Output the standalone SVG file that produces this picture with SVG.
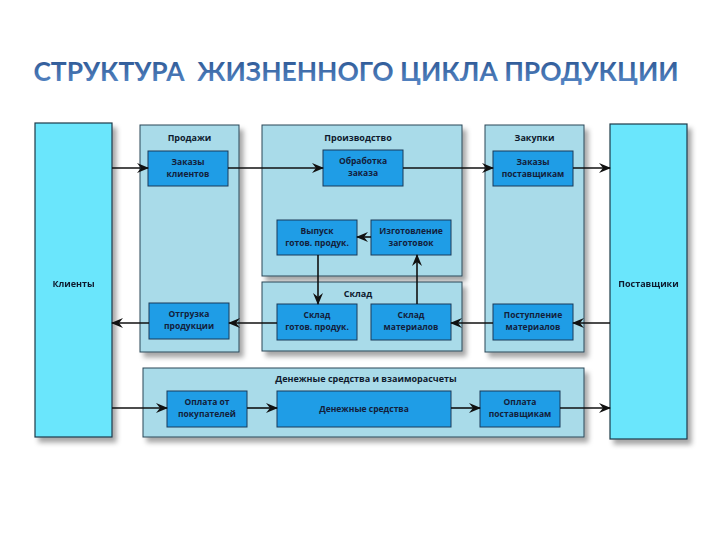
<svg xmlns="http://www.w3.org/2000/svg" width="720" height="540" viewBox="0 0 720 540">
<defs>
<linearGradient id="tg" x1="0" y1="0" x2="0" y2="1">
<stop offset="0" stop-color="#27508c"/>
<stop offset="1" stop-color="#5a8ccb"/>
</linearGradient>
<filter id="sh" x="-10%" y="-10%" width="130%" height="130%">
<feDropShadow dx="4" dy="5" stdDeviation="2.5" flood-color="#000" flood-opacity="0.35"/>
</filter>
<marker id="ar" viewBox="0 0 12 10" refX="11" refY="5" markerWidth="12" markerHeight="10" markerUnits="userSpaceOnUse" orient="auto">
<path d="M0,0 L12,5 L0,10 L4,5 z" fill="#111"/>
</marker>
</defs>
<style>
.big{fill:#6ae6fc;stroke:#1b3a4a;stroke-width:1.2}
.cont{fill:#a9dbe9;stroke:#2a4656;stroke-width:1}
.box{fill:#1f9de6;stroke:#1a3a5a;stroke-width:1}
.t{font-family:"Open Sans","DejaVu Sans",sans-serif;font-weight:bold;font-size:8.5px;fill:#13203a;text-anchor:middle}
.h{font-family:"Open Sans","DejaVu Sans",sans-serif;font-weight:bold;font-size:9px;fill:#0e1a2e;text-anchor:middle}
.c{stroke:#111;stroke-width:1.6;fill:none;marker-end:url(#ar)}
</style>
<rect width="720" height="540" fill="#fff"/>
<text x="356" y="81" font-family="Lato, Open Sans, DejaVu Sans, sans-serif" font-weight="bold" font-size="26.4" fill="url(#tg)" text-anchor="middle" xml:space="preserve">СТРУКТУРА  ЖИЗНЕННОГО ЦИКЛА ПРОДУКЦИИ</text>

<g id="clients" filter="url(#sh)"><rect class="big" x="35" y="123" width="77" height="314"/><text class="h" x="73.5" y="287">Клиенты</text></g>
<g id="suppliers" filter="url(#sh)"><rect class="big" x="610" y="124" width="77" height="315"/><text class="h" x="648.5" y="287">Поставщики</text></g>

<g id="sales"><rect class="cont" filter="url(#sh)" x="140" y="125" width="99" height="227"/><text class="h" x="189.5" y="141">Продажи</text></g>
<g id="production"><rect class="cont" filter="url(#sh)" x="262" y="125" width="200" height="151"/><text class="h" x="358" y="141">Производство</text></g>
<g id="warehouse"><rect class="cont" filter="url(#sh)" x="262" y="282" width="200" height="69"/><text class="h" x="358" y="297">Склад</text></g>
<g id="purchases"><rect class="cont" filter="url(#sh)" x="485" y="125" width="99" height="227"/><text class="h" x="534.5" y="141">Закупки</text></g>
<g id="finance"><rect class="cont" filter="url(#sh)" x="143" y="368" width="441" height="69"/><text class="h" x="366" y="382">Денежные средства и взаиморасчеты</text></g>

<g id="n1"><rect class="box" x="148" y="151" width="80" height="35"/><text class="t" x="188" y="165">Заказы</text><text class="t" x="188" y="177">клиентов</text></g>
<g id="n2"><rect class="box" x="149" y="303" width="80" height="36"/><text class="t" x="189" y="317">Отгрузка</text><text class="t" x="189" y="329">продукции</text></g>
<g id="n3"><rect class="box" x="323" y="150" width="80" height="36"/><text class="t" x="363" y="164">Обработка</text><text class="t" x="363" y="176">заказа</text></g>
<g id="n4"><rect class="box" x="277" y="220" width="80" height="35"/><text class="t" x="317" y="234">Выпуск</text><text class="t" x="317" y="246">готов. продук.</text></g>
<g id="n5"><rect class="box" x="371" y="220" width="80" height="35"/><text class="t" x="411" y="234">Изготовление</text><text class="t" x="411" y="246">заготовок</text></g>
<g id="n6"><rect class="box" x="277" y="304" width="80" height="36"/><text class="t" x="317" y="318">Склад</text><text class="t" x="317" y="330">готов. продук.</text></g>
<g id="n7"><rect class="box" x="371" y="304" width="80" height="36"/><text class="t" x="411" y="318">Склад</text><text class="t" x="411" y="330">материалов</text></g>
<g id="n8"><rect class="box" x="493" y="151" width="80" height="35"/><text class="t" x="533" y="165">Заказы</text><text class="t" x="533" y="177">поставщикам</text></g>
<g id="n9"><rect class="box" x="493" y="304" width="80" height="36"/><text class="t" x="533" y="318">Поступление</text><text class="t" x="533" y="330">материалов</text></g>
<g id="n10"><rect class="box" x="167" y="391" width="80" height="36"/><text class="t" x="207" y="405">Оплата от</text><text class="t" x="207" y="417">покупателей</text></g>
<g id="n11"><rect class="box" x="277" y="391" width="174" height="36"/><text class="t" x="364" y="412">Денежные средства</text></g>
<g id="n12"><rect class="box" x="480" y="391" width="80" height="36"/><text class="t" x="520" y="405">Оплата</text><text class="t" x="520" y="417">поставщикам</text></g>

<g id="connectors">
<line class="c" x1="112" y1="168" x2="148" y2="168"/>
<line class="c" x1="228" y1="168" x2="323" y2="168"/>
<line class="c" x1="403" y1="168" x2="493" y2="168"/>
<line class="c" x1="573" y1="168" x2="610" y2="168"/>
<line class="c" x1="610" y1="323" x2="573" y2="323"/>
<line class="c" x1="493" y1="323" x2="451" y2="323"/>
<line class="c" x1="417" y1="304" x2="417" y2="255"/>
<line class="c" x1="371" y1="237" x2="357" y2="237"/>
<line class="c" x1="318" y1="255" x2="318" y2="304"/>
<line class="c" x1="277" y1="323" x2="229" y2="323"/>
<line class="c" x1="149" y1="323" x2="112" y2="323"/>
<line class="c" x1="112" y1="408" x2="167" y2="408"/>
<line class="c" x1="247" y1="408" x2="277" y2="408"/>
<line class="c" x1="451" y1="408" x2="480" y2="408"/>
<line class="c" x1="560" y1="408" x2="610" y2="408"/>
</g>
</svg>
